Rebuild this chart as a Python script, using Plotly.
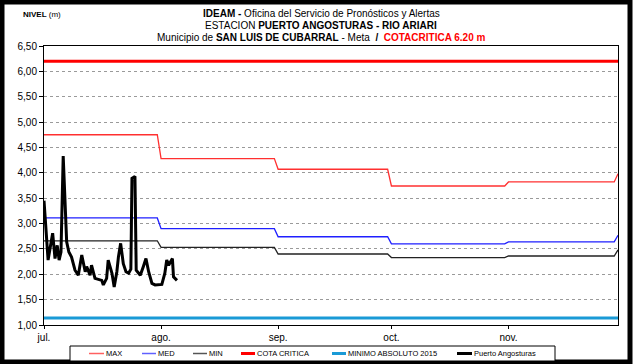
import plotly.graph_objects as go

# Monthly reference levels (step series, value changes on the 1st of each month)
ref_dates = ["2016-07-01", "2016-07-31", "2016-08-01", "2016-08-31", "2016-09-01",
             "2016-09-30", "2016-10-01", "2016-10-31", "2016-11-01", "2016-11-29",
             "2016-11-30"]
nivel_max = [4.75, 4.75, 4.28, 4.28, 4.07, 4.07, 3.74, 3.74, 3.82, 3.82, 3.98]
nivel_med = [3.11, 3.11, 2.90, 2.90, 2.74, 2.74, 2.60, 2.60, 2.64, 2.64, 2.77]
nivel_min = [2.66, 2.66, 2.53, 2.53, 2.40, 2.40, 2.33, 2.33, 2.36, 2.36, 2.48]

cota_critica = 6.20
minimo_absoluto_2015 = 1.14

# Observed levels at Puerto Angosturas
obs_times = ["2016-07-01 00:00", "2016-07-02 02:00", "2016-07-03 07:00", "2016-07-03 22:00",
             "2016-07-04 12:00", "2016-07-05 00:00", "2016-07-05 12:00", "2016-07-06 02:00",
             "2016-07-07 00:00", "2016-07-07 14:00", "2016-07-08 07:00", "2016-07-09 05:00",
             "2016-07-10 02:00", "2016-07-11 00:00", "2016-07-11 22:00", "2016-07-12 07:00",
             "2016-07-13 05:00", "2016-07-13 14:00", "2016-07-14 12:00", "2016-07-16 07:00",
             "2016-07-16 17:00", "2016-07-17 14:00", "2016-07-18 00:00", "2016-07-19 00:00",
             "2016-07-19 14:00", "2016-07-20 07:00", "2016-07-20 17:00", "2016-07-21 07:00",
             "2016-07-22 00:00", "2016-07-22 17:00", "2016-07-23 10:00", "2016-07-24 00:00",
             "2016-07-24 07:00", "2016-07-25 02:00", "2016-07-25 10:00", "2016-07-26 12:00",
             "2016-07-27 07:00", "2016-07-28 00:00", "2016-07-28 17:00", "2016-07-29 14:00",
             "2016-07-30 10:00", "2016-08-01 05:00", "2016-08-02 00:00", "2016-08-02 12:00",
             "2016-08-03 00:00", "2016-08-04 00:00", "2016-08-04 07:00", "2016-08-05 05:00"]
obs_levels = [3.45, 2.28, 2.81, 2.31, 2.57, 2.28, 2.44, 4.33,
              2.64, 2.44, 2.34, 2.08, 1.98, 2.38, 2.05, 2.15,
              1.98, 2.18, 1.92, 1.88, 1.79, 1.92, 2.28, 2.02,
              1.75, 2.05, 2.34, 2.61, 2.21, 2.05, 2.02, 2.10,
              3.89, 3.93, 2.08, 1.98, 2.15, 2.31, 2.05, 1.82,
              1.79, 1.80, 2.02, 2.28, 2.18, 2.31, 1.95, 1.88]

month_ticks = ["2016-07-01", "2016-08-01", "2016-09-01", "2016-10-01", "2016-11-01"]
month_labels = ["jul.", "ago.", "sep.", "oct.", "nov."]
y_ticks = [1.0, 1.5, 2.0, 2.5, 3.0, 3.5, 4.0, 4.5, 5.0, 5.5, 6.0, 6.5]

FONT = "Liberation Sans, Arial, sans-serif"
W, H = 634, 364
ML, MR, MT, MB = 44, 16, 46, 39
PW, PH = W - ML - MR, H - MT - MB


def px(x):
    return (x - ML) / PW


def py(y):
    return (H - MB - y) / PH


# series styles: (name, colour, width, legend swatch colour)
styles = {
    "MAX": ("#ff3030", 1.3, "#ff6060"),
    "MED": ("#1f1fff", 1.3, "#6060ff"),
    "MIN": ("#222222", 1.3, "#555555"),
    "COTA CRITICA": ("#ff0000", 3, "#ff0000"),
    "MINIMO ABSOLUTO 2015": ("#1a9ad6", 3, "#1a9ad6"),
    "Puerto Angosturas": ("#000000", 3, "#000000"),
}

fig = go.Figure()


def add_line(x, y, name):
    color, width, _ = styles[name]
    fig.add_trace(go.Scatter(x=x, y=y, name=name, mode="lines",
                             line=dict(color=color, width=width)))


add_line(ref_dates, nivel_max, "MAX")
add_line(ref_dates, nivel_med, "MED")
add_line(ref_dates, nivel_min, "MIN")
add_line([ref_dates[0], ref_dates[-1]], [cota_critica] * 2, "COTA CRITICA")
add_line([ref_dates[0], ref_dates[-1]], [minimo_absoluto_2015] * 2, "MINIMO ABSOLUTO 2015")
add_line(obs_times, obs_levels, "Puerto Angosturas")

title_lines = [
    "<b>IDEAM - </b>Oficina del Servicio de Pronósticos y Alertas",
    "ESTACION <b>PUERTO ANGOSTURAS - RIO ARIARI</b>",
    "Municipio de <b>SAN LUIS DE CUBARRAL</b> - Meta  <b>/</b>  "
    "<span style='color:#ff0000'><b>COTACRITICA 6.20 m</b></span>",
]
annotations = []
for i, t in enumerate(title_lines):
    annotations.append(dict(text=t, x=px(321), y=py(13 + 12 * i), xref="paper", yref="paper",
                            xanchor="center", yanchor="middle", showarrow=False,
                            font=dict(family=FONT, size=10, color="#000")))
annotations.append(dict(text="<b>NIVEL</b> (m)", x=px(21), y=py(14), xref="paper", yref="paper",
                        xanchor="left", yanchor="middle", showarrow=False,
                        font=dict(family=FONT, size=8, color="#000")))

shapes = [
    # outer chart frame
    dict(type="rect", xref="paper", yref="paper", x0=px(2), x1=px(630), y0=py(362), y1=py(2),
         line=dict(color="#000", width=5), fillcolor="rgba(0,0,0,0)", layer="above"),
    # legend box
    dict(type="rect", xref="paper", yref="paper", x0=px(70), x1=px(555), y0=py(361), y1=py(346),
         line=dict(color="#000", width=1), fillcolor="#fff", layer="above"),
]

# legend: swatch start (px) and text start (px) for each series
legend_pos = [("MAX", 89, 104), ("MED", 142, 156), ("MIN", 193, 207),
              ("COTA CRITICA", 241, 255), ("MINIMO ABSOLUTO 2015", 332, 346),
              ("Puerto Angosturas", 457, 472)]
ly = 353.5
for name, sx, tx in legend_pos:
    _, width, swatch = styles[name]
    shapes.append(dict(type="line", xref="paper", yref="paper", x0=px(sx), x1=px(tx),
                       y0=py(ly), y1=py(ly), line=dict(color=swatch, width=max(width, 1.5)),
                       layer="above"))
    annotations.append(dict(text=name, x=px(tx), y=py(ly), xref="paper", yref="paper",
                            xanchor="left", yanchor="middle", showarrow=False,
                            font=dict(family=FONT, size=7.5, color="#000")))

fig.update_layout(
    width=W, height=H,
    margin=dict(l=ML, r=MR, t=MT, b=MB, autoexpand=False),
    paper_bgcolor="#fff", plot_bgcolor="#fff",
    font=dict(family=FONT, color="#000"),
    showlegend=False,
    annotations=annotations,
    shapes=shapes,
    xaxis=dict(type="date", range=["2016-07-01", "2016-11-30"],
               tickvals=month_ticks, ticktext=month_labels,
               showgrid=False, zeroline=False,
               showline=True, linecolor="#000", linewidth=1, mirror=True,
               ticks="outside", ticklen=3, tickcolor="#000",
               tickfont=dict(family=FONT, size=10, color="#000"),
               tickprefix="<b>", ticksuffix="</b>"),
    yaxis=dict(range=[1.0, 6.5], tickvals=y_ticks, tickformat=".2f",
               showgrid=True, gridcolor="#9a9a9a", griddash="dot", gridwidth=1,
               zeroline=False,
               showline=True, linecolor="#000", linewidth=1, mirror=True,
               ticks="outside", ticklen=4, tickcolor="#000",
               tickfont=dict(family=FONT, size=10, color="#000"),
               tickprefix="<b>", ticksuffix="</b>"),
    separators=",.",
)

fig.write_html("out.html")
